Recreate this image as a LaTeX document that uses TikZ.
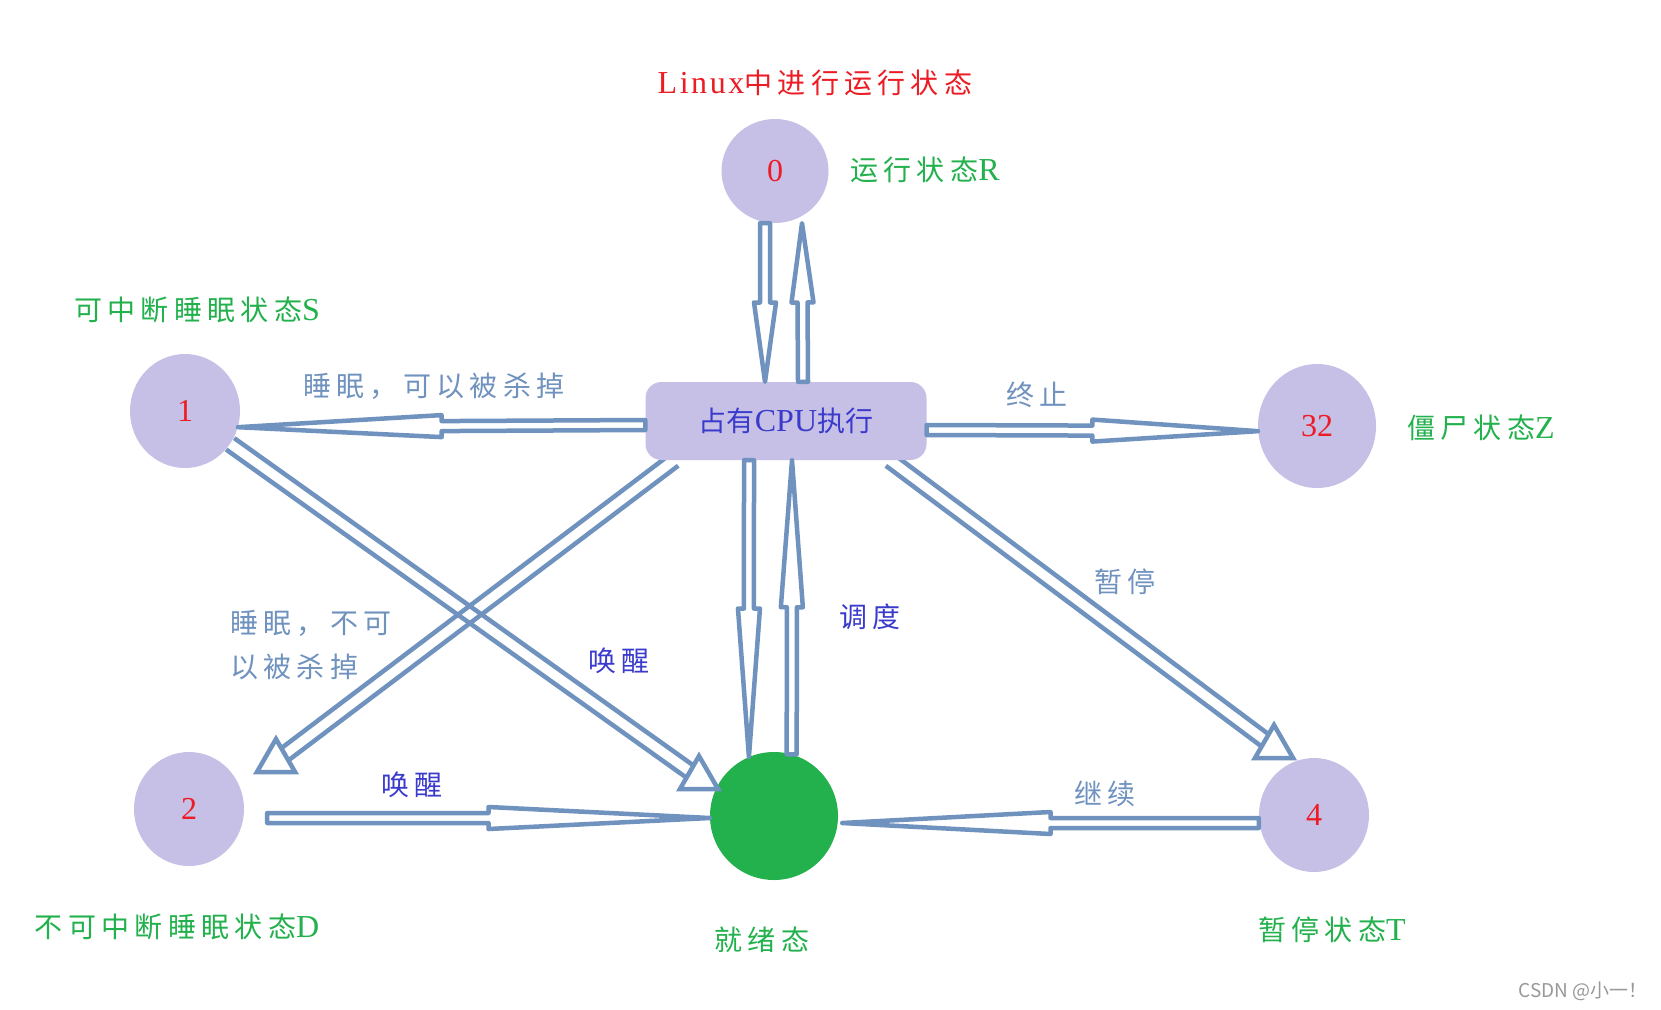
\documentclass[tikz,border=0pt]{standalone}
\usepackage{fontspec}
\setmainfont{Noto Sans CJK SC}
\newfontfamily\cjkwide[LetterSpace=19]{Noto Sans CJK SC}
\newfontfamily\latinface{Liberation Serif}
\newfontfamily\latinwide[LetterSpace=8]{Liberation Serif}
\usetikzlibrary{calc,shapes.geometric,backgrounds}

\definecolor{lav}{RGB}{198,192,230}
\definecolor{arrowblue}{RGB}{112,146,190}
\definecolor{numred}{RGB}{237,28,36}
\definecolor{stgreen}{RGB}{34,177,76}
\definecolor{ink}{RGB}{58,58,204}

\newcommand\shaftw{5pt}
\newcommand\headw{11pt}
\newcommand\rom[1]{{\latinwide\fontsize{32}{33}\selectfont #1}}

% block arrow: closed shaft, long head over the second half
\newcommand\blockarrow[2]{%
  \coordinate (mid) at ($(#1)!0.5!(#2)$);
  \draw[barrow] ($(#1)!\shaftw!90:(#2)$) -- ($(mid)!\shaftw!90:(#2)$)
    -- ($(mid)!\headw!90:(#2)$) -- (#2) -- ($(mid)!\headw!-90:(#2)$)
    -- ($(mid)!\shaftw!-90:(#2)$) -- ($(#1)!\shaftw!-90:(#2)$) -- cycle;}
% two parallel lines running into a triangle head
\newcommand\dblshaft[2]{%
  \draw[shaft] ($(#1)!7pt!90:(#2.center)$) -- ($(#2.center)!7pt!-90:(#1)$);
  \draw[shaft] ($(#1)!7pt!-90:(#2.center)$) -- ($(#2.center)!7pt!90:(#1)$);}

\tikzset{
  proc/.style={ellipse, fill=lav, text=numred, inner sep=0pt,
    font=\latinface\fontsize{32}{32}\selectfont},
  runbox/.style={rectangle, rounded corners=16pt, fill=lav, text=ink,
    minimum width=281pt, minimum height=78pt, font=\fontsize{28}{30}\selectfont},
  readynode/.style={circle, fill=stgreen, inner sep=0pt, minimum size=128pt},
  headline/.style={text=numred, inner sep=0pt, font=\cjkwide\fontsize{28}{32}\selectfont},
  glabel/.style={text=stgreen, inner sep=0pt, font=\cjkwide\fontsize{28}{32}\selectfont},
  slabel/.style={text=arrowblue, inner sep=0pt, font=\cjkwide\fontsize{28}{44}\selectfont},
  blabel/.style={text=ink, inner sep=0pt, font=\cjkwide\fontsize{28}{32}\selectfont},
  wmark/.style={text=black!40, inner sep=0pt, font=\fontsize{19}{21}\selectfont},
  barrow/.style={draw=arrowblue, line width=4.5pt, line join=round},
  shaft/.style={draw=arrowblue, line width=4.5pt},
  headtri/.style={regular polygon, regular polygon sides=3, draw=arrowblue,
    line width=4.5pt, fill=white, inner sep=0pt, minimum size=44pt},
}

\begin{document}
\begin{tikzpicture}[x=1pt,y=-1pt]
  \useasboundingbox (0,0) rectangle (1661,1009);

  % states
  \node[proc, minimum width=107pt, minimum height=104pt] (s0) at (775,171) {0};
  \node[proc, minimum width=110pt, minimum height=114pt] (s1) at (185,411) {1};
  \node[proc, minimum width=110pt, minimum height=114pt] (s2) at (189,809) {2};
  \node[proc, minimum width=118pt, minimum height=124pt] (s32) at (1317,426) {32};
  \node[proc, minimum width=110pt, minimum height=114pt] (s4) at (1314,815) {4};
  \node[runbox] (cpu) at (786,421) {占有{\latinface\fontsize{32}{33}\selectfont CPU}执行};
  \node[readynode] (rdy) at (774,816) {};

  % texts
  \node[headline] (ttl) at (815,83) {\rom{Linux}中进行运行状态};
  \node[glabel] (lblR) at (925,170) {运行状态\rom{R}};
  \node[glabel] (lblS) at (197,310) {可中断睡眠状态\rom{S}};
  \node[glabel] (lblZ) at (1481,428) {僵尸状态\rom{Z}};
  \node[glabel] (lblD) at (177,927) {不可中断睡眠状态\rom{D}};
  \node[glabel] (lblT) at (1332,930) {暂停状态\rom{T}};
  \node[glabel] (lblrdy) at (762,940) {就绪态};
  \node[slabel] (sleep1) at (434,386) {睡眠，可以被杀掉};
  \node[slabel, align=left, anchor=west] (sleep2) at (230,645) {睡眠，不可\\以被杀掉};
  \node[slabel] (stop) at (1037,395) {终止};
  \node[slabel] (pause) at (1125,582) {暂停};
  \node[slabel] (cont) at (1105,794) {继续};
  \node[blabel] (sched) at (870,617) {调度};
  \node[blabel] (wake1) at (619,661) {唤醒};
  \node[blabel] (wake2) at (412,785) {唤醒};
  \node[wmark] (wm) at (1583,991) {CSDN @小一！};

  % arrow ends
  \coordinate (d0a) at ([xshift=-10pt]s0.south);
  \coordinate (d0b) at ([xshift=-21pt]cpu.north);
  \coordinate (u0a) at ([xshift=17pt]cpu.north);
  \coordinate (u0b) at ([xshift=27pt]s0.south);
  \coordinate (l1a) at ([yshift=-4pt]cpu.west);
  \coordinate (l1b) at (s1.-17);
  \coordinate (r1a) at ([yshift=-9pt]cpu.east);
  \coordinate (r1b) at (s32.185);
  \coordinate (d1a) at ([xshift=-37pt]cpu.south);
  \coordinate (d1b) at (rdy.113);
  \coordinate (u1a) at (rdy.74);
  \coordinate (u1b) at ([xshift=6pt]cpu.south);
  \coordinate (w1a) at ([xshift=23pt,yshift=-9pt]s2.east);
  \coordinate (w1b) at ([yshift=-2pt]rdy.west);
  \coordinate (c1a) at ([yshift=-8pt]s4.west);
  \coordinate (c1b) at ([xshift=4pt,yshift=-7pt]rdy.east);
  \coordinate (x1a) at (s1.-36);
  \coordinate (x2a) at ([xshift=-112pt]cpu.south);
  \coordinate (x4a) at ([xshift=104pt]cpu.south);

  \blockarrow{d0a}{d0b}
  \blockarrow{u0a}{u0b}
  \blockarrow{l1a}{l1b}
  \blockarrow{r1a}{r1b}
  \blockarrow{d1a}{d1b}
  \blockarrow{u1a}{u1b}
  \blockarrow{w1a}{w1b}
  \blockarrow{c1a}{c1b}

  % diagonal arrows
  \node[headtri] (h1) at (699,778) {};
  \node[headtri] (h2) at (276,761) {};
  \node[headtri] (h4) at (1274,747) {};
  \begin{scope}[on background layer]
    \fill[white] (0,0) rectangle (1661,1009);
    \dblshaft{x1a}{h1}
    \dblshaft{x2a}{h2}
    \dblshaft{x4a}{h4}
  \end{scope}
\end{tikzpicture}
\end{document}
